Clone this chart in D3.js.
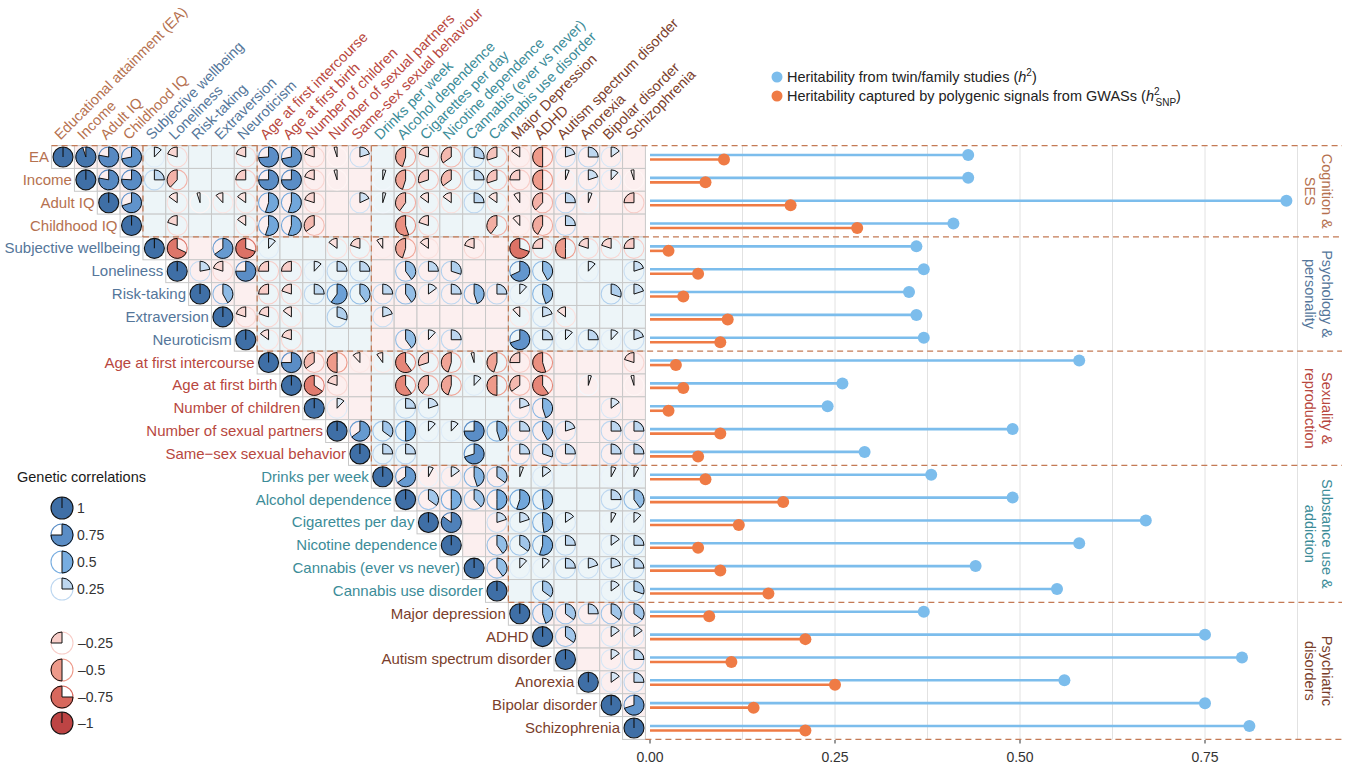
<!DOCTYPE html>
<html><head><meta charset="utf-8">
<script src="https://cdn.jsdelivr.net/npm/d3@7"></script>
<style>
html,body{margin:0;padding:0;background:#fff}
svg{display:block}
text{font-family:"Liberation Sans",Arial,Helvetica,sans-serif}
</style>
</head><body>
<svg id="chart" width="1346" height="766"></svg>
<script>
// Traits (rows) and their column headings
const rowLabels = ["EA","Income","Adult IQ","Childhood IQ","Subjective wellbeing","Loneliness","Risk-taking","Extraversion","Neuroticism","Age at first intercourse","Age at first birth","Number of children","Number of sexual partners","Same\u2212sex sexual behavior","Drinks per week","Alcohol dependence","Cigarettes per day","Nicotine dependence","Cannabis (ever vs never)","Cannabis use disorder","Major depression","ADHD","Autism spectrum disorder","Anorexia","Bipolar disorder","Schizophrenia"];
const columnLabels = ["Educational attainment (EA)","Income","Adult IQ","Childhood IQ","Subjective wellbeing","Loneliness","Risk-taking","Extraversion","Neuroticism","Age at first intercourse","Age at first birth","Number of children","Number of sexual partners","Same-sex sexual behaviour","Drinks per week","Alcohol dependence","Cigarettes per day","Nicotine dependence","Cannabis (ever vs never)","Cannabis use disorder","Major Depression","ADHD","Autism spectrum disorder","Anorexia","Bipolar disorder","Schizophrenia"];
const traitGroup = [0,0,0,0,1,1,1,1,1,2,2,2,2,2,3,3,3,3,3,3,4,4,4,4,4,4];
const groupTitles = [["Cognition &","SES"],["Psychology &","personality"],["Sexuality &","reproduction"],["Substance use &","addiction"],["Psychiatric","disorders"]];
const groupColors = ["#b5714f","#54769a","#b8473e","#3c8c98","#7a3e2b"];

// Heritability estimates
const h2Twin = [0.43,0.43,0.86,0.41,0.36,0.37,0.35,0.36,0.37,0.58,0.26,0.24,0.49,0.29,0.38,0.49,0.67,0.58,0.44,0.55,0.37,0.75,0.80,0.56,0.75,0.81];
const h2Snp  = [0.10,0.075,0.19,0.28,0.025,0.065,0.045,0.105,0.095,0.035,0.045,0.025,0.095,0.065,0.075,0.18,0.12,0.065,0.095,0.16,0.08,0.21,0.11,0.25,0.14,0.21];

// Genetic correlations: row i lists columns i+1 .. 25 (null = not shown)
const rgRows = [
  [0.95,0.78,0.72,0.12,-0.2,null,null,-0.2,0.74,0.72,-0.2,-0.05,0.2,null,-0.45,-0.2,-0.35,0.28,-0.3,-0.15,-0.5,0.2,0.25,0.15,null],
  [0.78,0.76,0.25,-0.38,null,null,-0.25,0.75,0.75,-0.2,-0.05,null,0.05,-0.45,-0.3,-0.35,0.25,-0.3,-0.25,-0.5,0.06,0.2,0.12,-0.05],
  [0.7,null,-0.15,-0.05,-0.12,-0.15,0.55,0.55,-0.2,null,0.18,0.05,-0.4,-0.15,-0.15,0.25,-0.15,-0.1,-0.38,0.25,0.06,null,-0.25],
  [null,-0.2,null,null,-0.15,0.55,0.55,-0.35,null,null,null,-0.55,-0.2,null,null,-0.4,-0.12,-0.42,0.25,null,null,null],
  [-0.68,null,0.65,-0.7,0.12,null,null,-0.15,-0.2,-0.1,-0.45,-0.15,null,-0.2,null,-0.7,-0.25,-0.5,-0.2,-0.2,-0.25],
  [0.22,-0.2,0.75,-0.25,-0.25,0.12,0.25,0.25,null,0.4,0.25,0.3,null,null,0.68,0.42,null,0.12,null,0.2],
  [0.42,null,-0.25,-0.2,0.25,0.6,0.4,0.25,0.4,0.15,0.25,0.45,0.25,0.12,0.45,null,null,0.3,0.2],
  [-0.2,-0.2,-0.15,null,0.3,null,0.2,null,null,null,null,null,-0.12,0.2,-0.15,null,null,null],
  [-0.15,-0.2,null,null,null,null,0.4,0.12,0.25,null,null,0.7,0.25,0.12,0.25,0.12,0.2],
  [0.75,-0.35,-0.5,-0.12,-0.1,-0.6,-0.3,-0.45,-0.05,-0.45,-0.25,-0.55,null,null,null,-0.2],
  [-0.65,-0.2,null,null,-0.6,-0.4,-0.45,0.12,-0.5,-0.35,-0.6,null,0.05,null,-0.05],
  [0.12,null,null,0.25,0.2,null,null,null,0.2,0.45,null,null,0.15,null],
  [0.65,0.35,0.5,0.12,0.12,0.75,0.45,0.25,0.42,0.2,null,0.25,0.25],
  [0.25,0.25,null,null,0.7,null,0.25,0.3,0.25,null,0.25,0.25],
  [0.65,0.08,0.15,0.45,0.35,0.06,0.15,null,null,0.08,0.08],
  [0.35,0.5,0.38,0.5,0.55,0.48,null,null,0.25,0.4],
  [0.85,null,0.2,0.2,0.48,0.15,null,0.08,0.12],
  [null,0.4,0.35,0.55,0.25,null,0.15,0.25],
  [0.4,0.12,0.12,0.25,0.2,0.2,0.25],
  [null,0.35,null,null,0.15,0.3],
  [0.45,0.35,0.25,0.35,0.35],
  [0.35,null,0.15,0.15],
  [null,0.15,0.25],
  [0.15,0.25],
  [0.7],
  []
];

const legendValues = [1,0.75,0.5,0.25,-0.25,-0.5,-0.75,-1];
const legendLabels = ["1","0.75","0.5","0.25","\u20130.25","\u20130.5","\u20130.75","\u20131"];
const axisTicks = [0,0.25,0.5,0.75];
const gridTicks = [0.125,0.25,0.375,0.5,0.625,0.75,0.875];

const svg = d3.select("#chart");
const n = rowLabels.length;

// matrix geometry
const xBand = d3.scaleBand().domain(d3.range(n)).range([51.6, 645.4]);
const yBand = d3.scaleBand().domain(d3.range(n)).range([145.6, 739.4]);
const bw = xBand.bandwidth();
const cx = j => xBand(j) + bw / 2;
const cy = i => yBand(i) + bw / 2;
const pieR = 10;

// heritability scale
const hx = d3.scaleLinear().domain([0, 1]).range([650, 1390]);
const dashRight = 1342;

const corrColor = d3.scaleLinear()
  .domain([-1,-0.75,-0.5,-0.25,0,0.25,0.5,0.75,1])
  .range(["#bd4444","#d8685d","#ee9a8a","#f8cdc8","#ffffff","#bdd7f0","#77ade0","#5a8dc6","#3f6fa6"]);

const groupStart = [0,4,9,14,20];
const groupEnd = [4,9,14,20,26];
const bgPink = "#fcefef", bgBlue = "#edf5f8";

// ---- cell backgrounds
const cells = [];
for (let i = 0; i < n; i++) for (let j = i; j < n; j++) cells.push({i, j});
svg.append("g").selectAll("rect").data(cells).join("rect")
  .attr("x", d => xBand(d.j)).attr("y", d => yBand(d.i))
  .attr("width", bw).attr("height", bw)
  .attr("fill", d => d.i === d.j ? "#ffffff" : ((traitGroup[d.j] - traitGroup[d.i]) % 2 === 0 ? bgPink : bgBlue))
  .attr("stroke", "#c8c8c8").attr("stroke-width", 1);

// ---- vertical grid of heritability panel
svg.append("g").selectAll("line").data(gridTicks).join("line")
  .attr("x1", d => hx(d)).attr("x2", d => hx(d))
  .attr("y1", 145.6).attr("y2", 739.4)
  .attr("stroke", "#e2e2e2").attr("stroke-width", 1);

// ---- group boundary dashes
const dashG = svg.append("g").attr("stroke", "#c47a55").attr("stroke-width", 1.2)
  .attr("stroke-dasharray", "6,4").attr("fill", "none");
dashG.append("line").attr("x1", 51.6).attr("x2", dashRight).attr("y1", 145.6).attr("y2", 145.6);
dashG.append("line").attr("x1", 645.4).attr("x2", dashRight).attr("y1", 739.4).attr("y2", 739.4);
groupStart.slice(1).forEach(b => {
  dashG.append("line").attr("x1", xBand(b)).attr("x2", xBand(b)).attr("y1", 145.6).attr("y2", yBand(b));
  dashG.append("line").attr("x1", xBand(b)).attr("x2", dashRight).attr("y1", yBand(b)).attr("y2", yBand(b));
});

// ---- correlation pies
function drawPie(g, v, r) {
  const a = d3.arc().innerRadius(0).outerRadius(r);
  if (Math.abs(v) >= 0.999) {
    g.append("circle").attr("r", r).attr("fill", corrColor(v)).attr("stroke", "#111").attr("stroke-width", 1.1);
    g.append("line").attr("x1", 0).attr("y1", 0).attr("x2", 0).attr("y2", -r).attr("stroke", "#111").attr("stroke-width", 1.1);
    return;
  }
  g.append("circle").attr("r", r).attr("fill", "none").attr("stroke", corrColor(v)).attr("stroke-width", 1.1);
  g.append("path").attr("d", a({startAngle: 0, endAngle: 2 * Math.PI * v}))
    .attr("fill", corrColor(v)).attr("stroke", "#111").attr("stroke-width", 1).attr("stroke-linejoin", "round");
}
const pieData = [];
rgRows.forEach((row, i) => row.forEach((v, k) => { if (v !== null) pieData.push({i, j: i + 1 + k, v}); }));
for (let i = 0; i < n; i++) pieData.push({i, j: i, v: 1});
const pieG = svg.append("g");
pieData.forEach(d => drawPie(pieG.append("g").attr("transform", `translate(${cx(d.j)},${cy(d.i)})`), d.v, pieR));

// ---- row labels
svg.append("g").selectAll("text").data(rowLabels).join("text")
  .attr("x", (d, i) => cx(i) - 14).attr("y", (d, i) => cy(i) + 5)
  .attr("text-anchor", "end").attr("font-size", 15)
  .attr("fill", (d, i) => groupColors[traitGroup[i]]).text(d => d);

// ---- column labels
svg.append("g").selectAll("text").data(columnLabels).join("text")
  .attr("transform", (d, j) => `translate(${cx(j) - 2.5},${140.5}) rotate(-45)`)
  .attr("font-size", 14.5)
  .attr("fill", (d, j) => groupColors[traitGroup[j]]).text(d => d);

// ---- heritability lollipops
const lolG = svg.append("g");
const blue = "#7cbdec", orange = "#ef7b45";
lolG.selectAll("line.tw").data(h2Twin).join("line").attr("class", "tw")
  .attr("x1", hx(0)).attr("x2", d => hx(d))
  .attr("y1", (d, i) => cy(i) - 2).attr("y2", (d, i) => cy(i) - 2)
  .attr("stroke", blue).attr("stroke-width", 2.6);
lolG.selectAll("line.snp").data(h2Snp).join("line").attr("class", "snp")
  .attr("x1", hx(0)).attr("x2", d => hx(d))
  .attr("y1", (d, i) => cy(i) + 2.5).attr("y2", (d, i) => cy(i) + 2.5)
  .attr("stroke", orange).attr("stroke-width", 2.6);
lolG.selectAll("circle.tw").data(h2Twin).join("circle").attr("class", "tw")
  .attr("cx", d => hx(d)).attr("cy", (d, i) => cy(i) - 2).attr("r", 6).attr("fill", blue);
lolG.selectAll("circle.snp").data(h2Snp).join("circle").attr("class", "snp")
  .attr("cx", d => hx(d)).attr("cy", (d, i) => cy(i) + 2.5).attr("r", 6).attr("fill", orange);

// ---- x axis
const axG = svg.append("g");
axG.selectAll("line").data(axisTicks).join("line")
  .attr("x1", d => hx(d)).attr("x2", d => hx(d)).attr("y1", 740).attr("y2", 743.5)
  .attr("stroke", "#333").attr("stroke-width", 1);
axG.selectAll("text").data(axisTicks).join("text")
  .attr("x", d => hx(d)).attr("y", 762).attr("text-anchor", "middle")
  .attr("font-size", 14).attr("fill", "#333").text(d => d3.format(".2f")(d));

// ---- facet strip labels
groupTitles.forEach((lines, g) => {
  const yc = (yBand(groupStart[g]) + yBand(groupEnd[g] - 1) + bw) / 2;
  const t = svg.append("text").attr("transform", `translate(1318.5,${yc}) rotate(90)`)
    .attr("text-anchor", "middle").attr("font-size", 14.5).attr("fill", groupColors[g]);
  t.append("tspan").attr("x", 0).attr("y", -3.5).text(lines[0]);
  t.append("tspan").attr("x", 0).attr("y", 13.5).text(lines[1]);
});

// ---- heritability legend
const hl = svg.append("g").attr("font-size", 14.5).attr("fill", "#222");
hl.append("circle").attr("cx", 777).attr("cy", 77).attr("r", 5.5).attr("fill", blue);
hl.append("circle").attr("cx", 777).attr("cy", 96).attr("r", 5.5).attr("fill", orange);
const t1 = hl.append("text").attr("x", 787).attr("y", 82);
t1.append("tspan").text("Heritability from twin/family studies (");
t1.append("tspan").attr("font-style", "italic").text("h");
t1.append("tspan").attr("font-size", 10).attr("dy", -6).text("2");
t1.append("tspan").attr("dy", 6).text(")");
const t2 = hl.append("text").attr("x", 787).attr("y", 101);
t2.append("tspan").text("Heritability captured by polygenic signals from GWASs (");
t2.append("tspan").attr("font-style", "italic").text("h");
t2.append("tspan").attr("font-size", 10).attr("dy", -6).text("2");
t2.append("tspan").attr("font-size", 10).attr("dx", -4).attr("dy", 11).text("SNP");
t2.append("tspan").attr("dy", -5).text(")");

// ---- genetic correlation legend
svg.append("text").attr("x", 17).attr("y", 482).attr("font-size", 14.5).attr("fill", "#1a1a1a").text("Genetic correlations");
const legY = [508,535,562,589,643,670,697,723];
legendValues.forEach((v, k) => {
  const g = svg.append("g").attr("transform", `translate(62,${legY[k]})`);
  drawPie(g, v, 11);
  svg.append("text").attr("x", v > 0 ? 77 : 78).attr("y", legY[k] + 5).attr("font-size", 14)
    .attr("fill", "#333").text(legendLabels[k]);
});
</script>
</body></html>
